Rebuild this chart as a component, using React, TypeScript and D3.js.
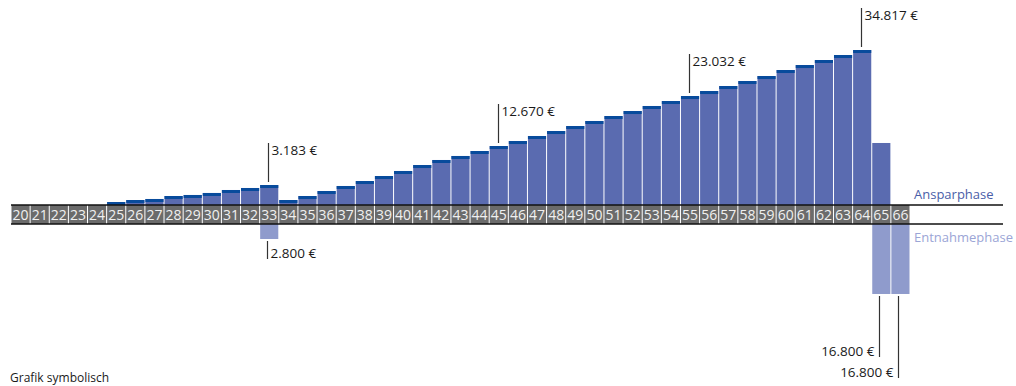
import { useRef, useEffect } from 'react';
import * as d3 from 'd3';

// ages shown in the band
const AGES = d3.range(20, 67);

// capital per age (symbolic), €
const SAVINGS: Record<number, number> = {
  25: 670, 26: 1120, 27: 1350, 28: 2020, 29: 2250, 30: 2700, 31: 3370, 32: 3820, 33: 4490,
  34: 1120, 35: 2020, 36: 3140, 37: 4270, 38: 5390, 39: 6510, 40: 7640, 41: 8980,
  42: 10110, 43: 11010, 44: 12130, 45: 13250, 46: 14370, 47: 15500, 48: 16620,
  49: 17740, 50: 18870, 51: 19990, 52: 21110, 53: 22240, 54: 23360, 55: 24480,
  56: 25600, 57: 26730, 58: 27850, 59: 28970, 60: 30320, 61: 31440, 62: 32570,
  63: 33690, 64: 34817, 65: 13930,
};

// withdrawals per age, €
const WITHDRAWALS: Record<number, number> = { 33: 3370, 65: 15720, 66: 15720 };

// ages whose bar has the dark top cap
const CAP_AGES = d3.range(25, 65);

const TOP_LABELS = [
  { age: 33, text: '3.183 €' },
  { age: 45, text: '12.670 €' },
  { age: 55, text: '23.032 €' },
  { age: 64, text: '34.817 €' },
];

const BOTTOM_LABELS = [
  { age: 33, text: '2.800 €', len: 18, anchor: 'start' },
  { age: 65, text: '16.800 €', len: 61, anchor: 'end' },
  { age: 66, text: '16.800 €', len: 82, anchor: 'end' },
];

const FONT = "'Open Sans', sans-serif";

export default function App() {
  const svgRef = useRef<SVGSVGElement>(null);

  useEffect(() => {
    if (!svgRef.current) return;
    const svg = d3.select(svgRef.current);
    svg.selectAll('*').remove();

    const bandTop = 205;
    const bandBottom = 224;

    const x = d3.scaleBand<number>().domain(AGES).range([11, 910]).paddingInner(0);
    const bw = x.bandwidth();
    const yUp = d3.scaleLinear().domain([0, 34817]).range([bandTop, 50]);
    const yDown = d3.scaleLinear().domain([0, 34817]).range([bandBottom, bandBottom + 155]);

    const up = AGES.filter((a) => SAVINGS[a]);
    const down = AGES.filter((a) => WITHDRAWALS[a]);

    // positive bars
    svg
      .append('g')
      .selectAll('rect')
      .data(up)
      .join('rect')
      .attr('x', (a) => x(a)! + 0.5)
      .attr('y', (a) => yUp(SAVINGS[a]))
      .attr('width', bw - 1)
      .attr('height', (a) => bandTop - yUp(SAVINGS[a]))
      .attr('fill', '#5a6bb0');

    svg
      .append('g')
      .selectAll('rect')
      .data(up.filter((a) => CAP_AGES.includes(a)))
      .join('rect')
      .attr('x', (a) => x(a)! + 0.5)
      .attr('y', (a) => yUp(SAVINGS[a]))
      .attr('width', bw - 1)
      .attr('height', 3)
      .attr('fill', '#084b9c');

    // negative bars
    svg
      .append('g')
      .selectAll('rect')
      .data(down)
      .join('rect')
      .attr('x', (a) => x(a)! + 0.5)
      .attr('y', bandBottom)
      .attr('width', bw - 1)
      .attr('height', (a) => yDown(WITHDRAWALS[a]) - bandBottom)
      .attr('fill', '#8f9bcc');

    // age band
    const cells = svg.append('g');
    cells
      .selectAll('rect')
      .data(AGES)
      .join('rect')
      .attr('x', (a) => x(a)! + 0.5)
      .attr('y', bandTop)
      .attr('width', bw - 1)
      .attr('height', bandBottom - bandTop)
      .attr('fill', '#6b6b6b');
    cells
      .selectAll('text')
      .data(AGES)
      .join('text')
      .attr('x', (a) => x(a)! + bw / 2)
      .attr('y', bandTop + 15)
      .attr('text-anchor', 'middle')
      .attr('fill', '#f0f0f0')
      .attr('font-family', FONT)
      .attr('font-size', '14px')
      .text((a) => a);

    [bandTop, bandBottom].forEach((yy) => {
      svg
        .append('line')
        .attr('x1', 11)
        .attr('x2', 1003)
        .attr('y1', yy)
        .attr('y2', yy)
        .attr('stroke', '#111')
        .attr('stroke-width', 1.3);
    });

    // legend
    svg
      .append('text')
      .attr('x', 914)
      .attr('y', 199)
      .attr('fill', '#4a5ea8')
      .attr('font-family', FONT)
      .attr('font-size', '13px')
      .text('Ansparphase');
    svg
      .append('text')
      .attr('x', 914)
      .attr('y', 242)
      .attr('fill', '#9ba5d6')
      .attr('font-family', FONT)
      .attr('font-size', '13px')
      .text('Entnahmephase');

    // top annotations
    TOP_LABELS.forEach((l) => {
      const cx = Math.round(x(l.age)! + bw / 2) - 0.5;
      const top = yUp(SAVINGS[l.age]);
      const y1 = top - 3;
      const y0 = y1 - 39;
      svg
        .append('line')
        .attr('x1', cx)
        .attr('x2', cx)
        .attr('y1', y0)
        .attr('y2', y1)
        .attr('stroke', '#333')
        .attr('stroke-width', 1.2);
      svg
        .append('text')
        .attr('x', cx + 3)
        .attr('y', y0 + 12)
        .attr('fill', '#1a1a1a')
        .attr('font-family', FONT)
        .attr('font-size', '13.5px')
        .text(l.text);
    });

    // bottom annotations
    BOTTOM_LABELS.forEach((l) => {
      const cx = Math.round(x(l.age)! + bw / 2) - 1.5;
      const y0 = yDown(WITHDRAWALS[l.age]) + 2;
      const y1 = y0 + l.len;
      svg
        .append('line')
        .attr('x1', cx)
        .attr('x2', cx)
        .attr('y1', y0)
        .attr('y2', y1)
        .attr('stroke', '#333')
        .attr('stroke-width', 1.2);
      svg
        .append('text')
        .attr('x', l.anchor === 'start' ? cx + 3 : cx - 5)
        .attr('y', y1 - 1)
        .attr('text-anchor', l.anchor)
        .attr('fill', '#1a1a1a')
        .attr('font-family', FONT)
        .attr('font-size', '13.5px')
        .text(l.text);
    });

    svg
      .append('text')
      .attr('x', 10)
      .attr('y', 382)
      .attr('fill', '#1a1a1a')
      .attr('font-family', FONT)
      .attr('font-size', '12px')
      .text('Grafik symbolisch');
  }, []);

  return (
    <svg
      ref={svgRef}
      width={1016}
      height={386}
      style={{ position: 'absolute', left: 0, top: 0, background: '#fff' }}
    />
  );
}
